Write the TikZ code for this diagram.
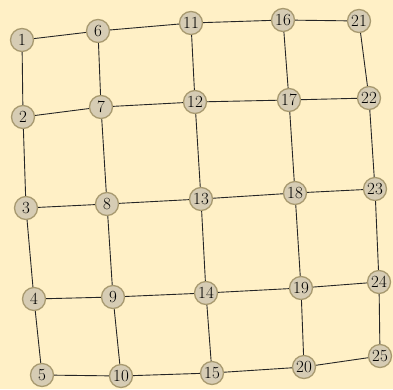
\documentclass[tikz,border=0pt]{standalone}
\definecolor{bgc}{HTML}{FFF0C6}
\definecolor{nodefill}{HTML}{D6CCB4}
\definecolor{nodeedge}{HTML}{A89A70}
\begin{document}
\begin{tikzpicture}[x=1pt,y=-1pt,
  vtx/.style={circle,draw=nodeedge,fill=nodefill,line width=1.3pt,minimum size=23pt,inner sep=0pt,font=\fontsize{17}{17}\selectfont},
  edge/.style={line width=0.9pt,black!85}]
\fill[bgc] (0,0) rectangle (393,389);
\useasboundingbox (0,0) rectangle (393,389);
\coordinate (p1) at (22,40);
\coordinate (p2) at (23,117);
\coordinate (p3) at (26,208);
\coordinate (p4) at (34,299);
\coordinate (p5) at (42,375);
\coordinate (p6) at (98,31);
\coordinate (p7) at (101,107);
\coordinate (p8) at (107,204);
\coordinate (p9) at (113,297);
\coordinate (p10) at (121,376);
\coordinate (p11) at (191,23);
\coordinate (p12) at (195,102);
\coordinate (p13) at (201,199);
\coordinate (p14) at (206,293);
\coordinate (p15) at (212,373);
\coordinate (p16) at (283,20);
\coordinate (p17) at (289,100);
\coordinate (p18) at (295,193);
\coordinate (p19) at (301,288);
\coordinate (p20) at (304,367);
\coordinate (p21) at (359,21);
\coordinate (p22) at (369,98);
\coordinate (p23) at (375,189);
\coordinate (p24) at (379,282);
\coordinate (p25) at (380,356);
\foreach \i in {1,...,25} {\node[vtx] (n\i) at (p\i) {\i};}
\foreach \c in {0,5,10,15,20} {
  \foreach \r in {1,2,3,4} {
    \pgfmathtruncatemacro{\a}{\c+\r}
    \pgfmathtruncatemacro{\b}{\c+\r+1}
    \draw[edge] (n\a) -- (n\b);
  }
}
\foreach \c in {0,5,10,15} {
  \foreach \r in {1,...,5} {
    \pgfmathtruncatemacro{\a}{\c+\r}
    \pgfmathtruncatemacro{\b}{\c+\r+5}
    \draw[edge] (n\a) -- (n\b);
  }
}
\end{tikzpicture}
\end{document}
